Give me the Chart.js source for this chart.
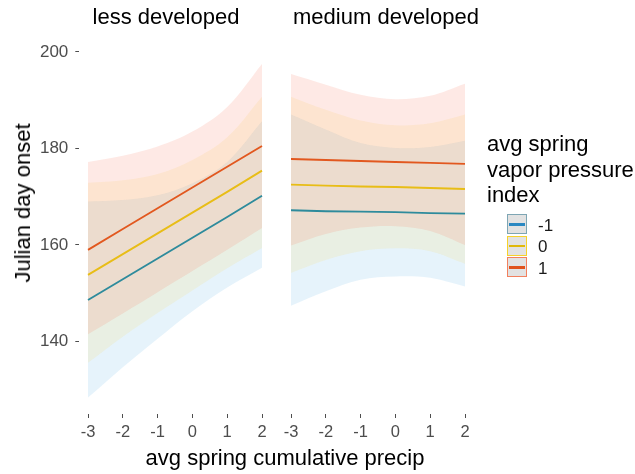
<!DOCTYPE html>
<html>
<head>
<meta charset="utf-8">
<script src="https://cdn.jsdelivr.net/npm/chart.js@4.4.1/dist/chart.umd.min.js"></script>
<style>
  body { margin: 0; background: #fff; font-family: 'Liberation Sans', Arial, sans-serif; }
  #wrap { position: relative; width: 635px; height: 474px; overflow: hidden; }
  canvas { position: absolute; left: 0; top: 0; }
  .t { position: absolute; white-space: nowrap; color: #000; font-size: 22px; line-height: 22px; }
  .key { position: absolute; left: 507px; width: 18px; height: 18px; background: #e2e2e2; border: 1.5px solid; }
  .key i { position: absolute; left: 1px; right: 1px; top: 8px; height: 2.5px; }
  .lab { position: absolute; left: 538px; font-size: 17px; line-height: 17px; color: #1a1a1a; }
</style>
</head>
<body>
<div id="wrap">
  <canvas id="c1" width="635" height="474"></canvas>
  <canvas id="c2" width="635" height="474"></canvas>
  <div class="t" style="left:166px; top:6px; transform:translateX(-50%)">less developed</div>
  <div class="t" style="left:386px; top:6px; transform:translateX(-50%)">medium developed</div>
  <div class="t" style="left:285px; top:447px; transform:translateX(-50%)">avg spring cumulative precip</div>
  <div class="t" style="left:23px; top:203px; transform:translate(-50%,-50%) rotate(-90deg)">Julian day onset</div>
  <div class="t" style="left:487px; top:131px; line-height:25.5px">avg spring<br>vapor pressure<br>index</div>
  <div id="legend"></div>
</div>
<script>
// valori
const LEVELS = ['-1', '0', '1'];
const X_VALS = [-3, -2, -1, 0, 1, 2];
const X_TICKS = [-3, -2, -1, 0, 1, 2];
const Y_TICKS = [140, 160, 180, 200];

// less developed
const lessMidM1 = [148.6, 152.9, 157.2, 161.5, 165.8, 170.2];
const lessMid0  = [153.8, 158.1, 162.4, 166.7, 171.0, 175.4];
const lessMid1  = [159.0, 163.3, 167.6, 171.9, 176.2, 180.5];
const lessLoM1  = [128.4, 134.7, 140.6, 146.3, 151.2, 155.3];
const lessHiM1  = [169.0, 169.3, 170.3, 172.8, 177.2, 185.6];
const lessLo0   = [135.6, 141.0, 145.9, 150.6, 155.2, 159.4];
const lessHi0   = [172.9, 173.4, 174.7, 177.6, 182.3, 190.7];
const lessLo1   = [141.5, 145.8, 150.2, 154.6, 159.0, 163.5];
const lessHi1   = [177.2, 178.5, 180.4, 183.5, 188.6, 197.5];

// medium developed
const medMidM1 = [167.2, 167.0, 166.9, 166.8, 166.6, 166.5];
const medMid0  = [172.5, 172.3, 172.1, 172.0, 171.8, 171.6];
const medMid1  = [177.8, 177.6, 177.4, 177.2, 177.0, 176.8];
const medLoM1  = [147.4, 150.4, 152.8, 153.5, 153.2, 151.4];
const medHiM1  = [187.0, 183.9, 181.1, 180.1, 180.3, 181.6];
const medLo0   = [154.2, 156.9, 158.7, 159.3, 158.7, 156.1];
const medHi0   = [190.7, 188.0, 185.8, 184.8, 185.2, 187.0];
const medLo1   = [159.9, 162.3, 163.6, 163.9, 162.9, 160.0];
const medHi1   = [195.4, 193.2, 191.1, 190.2, 190.9, 193.4];

const LINE_COLORS = ['#2e8b9c', '#e8bd17', '#e2581f'];
const FILL_COLORS = ['rgba(90,175,225,0.15)', 'rgba(250,215,80,0.14)', 'rgba(245,110,80,0.15)'];
const KEY_LINES = ['#2a88c2', '#e0b80a', '#e0521c'];
const KEY_BORDERS = ['#7ea6b4', '#f6d22a', '#f2805e'];
const FONT = "'Liberation Sans', Arial, sans-serif";

const PANELS = {
    less: { mid: [lessMidM1, lessMid0, lessMid1], lo: [lessLoM1, lessLo0, lessLo1], hi: [lessHiM1, lessHi0, lessHi1] },
    medium: { mid: [medMidM1, medMid0, medMid1], lo: [medLoM1, medLo0, medLo1], hi: [medHiM1, medHi0, medHi1] }
};

function toPts(arr) {
    return X_VALS.map((x, i) => ({ x: x, y: arr[i] }));
}

function buildDatasets(panel) {
    const ds = [];
    // linee sopra (indice basso = disegnato per ultimo)
    LEVELS.forEach((lv, i) => {
        ds.push({ label: lv, data: toPts(panel.mid[i]), borderColor: LINE_COLORS[i], borderWidth: 1.9, pointRadius: 0, fill: false, tension: 0 });
    });
    // bande: -1 in fondo
    [2, 1, 0].forEach(i => {
        ds.push({ data: toPts(panel.hi[i]), borderColor: 'rgba(0,0,0,0)', borderWidth: 1, pointRadius: 0, fill: '+1', backgroundColor: FILL_COLORS[i], tension: 0.35 });
        ds.push({ data: toPts(panel.lo[i]), borderColor: 'rgba(0,0,0,0)', borderWidth: 1, pointRadius: 0, fill: false, tension: 0.35 });
    });
    return ds;
}

function makeChart(id, panel, showY, padLeft, padRight) {
    const tickGrid = { display: true, drawOnChartArea: false, drawTicks: true, tickLength: 4, color: '#4d4d4d', lineWidth: 1 };
    return new Chart(document.getElementById(id), {
        type: 'line',
        data: { datasets: buildDatasets(panel) },
        options: {
            responsive: false,
            animation: false,
            events: [],
            layout: { padding: { left: padLeft, right: padRight, top: 47, bottom: 0 } },
            plugins: { legend: { display: false }, tooltip: { enabled: false } },
            scales: {
                x: {
                    type: 'linear', min: -3.25, max: 2.25,
                    afterBuildTicks: s => { s.ticks = X_TICKS.map(v => ({ value: v })); },
                    afterFit: s => { s.height = 60; },
                    grid: tickGrid,
                    border: { display: false },
                    ticks: { color: '#4d4d4d', font: { size: 16.5, family: FONT }, padding: 5, maxRotation: 0, autoSkip: false }
                },
                y: {
                    display: showY, min: 125, max: 201,
                    afterBuildTicks: s => { s.ticks = Y_TICKS.map(v => ({ value: v })); },
                    afterFit: s => { s.width = showY ? 79.3 : 0; },
                    grid: tickGrid,
                    border: { display: false },
                    ticks: { color: '#4d4d4d', font: { size: 17, family: FONT }, padding: 7 }
                }
            }
        }
    });
}

function renderLegend() {
    const box = document.getElementById('legend');
    const tops = [214, 235.5, 257];
    LEVELS.forEach((lv, i) => {
        const k = document.createElement('div');
        k.className = 'key';
        k.style.top = tops[i] + 'px';
        k.style.borderColor = KEY_BORDERS[i];
        k.innerHTML = `<i style="background:${KEY_LINES[i]}"></i>`;
        box.appendChild(k);
        const l = document.createElement('div');
        l.className = 'lab';
        l.style.top = (tops[i] + 2.5) + 'px';
        l.textContent = lv;
        box.appendChild(l);
    });
}

makeChart('c1', PANELS.less, true, 0, 635 - 270.7);
makeChart('c2', PANELS.medium, false, 282.3, 635 - 473.7);
renderLegend();
</script>
</body>
</html>
